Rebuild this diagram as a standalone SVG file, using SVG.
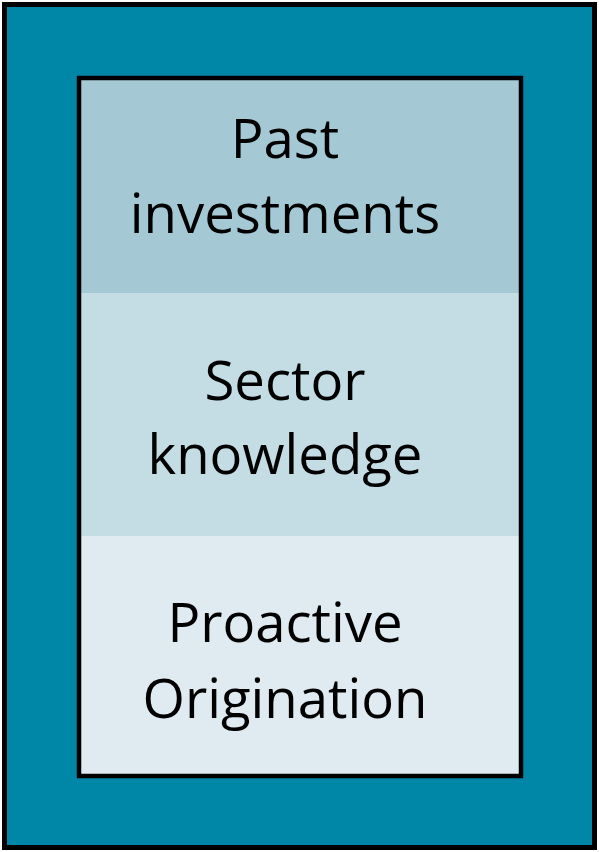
<svg xmlns="http://www.w3.org/2000/svg" width="599" height="852" viewBox="0 0 599 852">
<style>
.lbl{font-family:"Open Sans","Liberation Sans",sans-serif;font-size:54.5px;fill:#000;text-anchor:middle}
</style>
<g id="outer">
<rect x="4.5" y="4.5" width="590" height="843" fill="#0087A8" stroke="#000" stroke-width="5"/>
</g>
<g id="band-past">
<rect x="79" y="78" width="442" height="215" fill="#A4C9D5"/>
<text class="lbl" x="285" y="158">Past</text>
<text class="lbl" x="285" y="233">investments</text>
</g>
<g id="band-sector">
<rect x="79" y="293" width="442" height="243" fill="#C4DDE4"/>
<text class="lbl" x="285" y="400">Sector</text>
<text class="lbl" x="285" y="474">knowledge</text>
</g>
<g id="band-proactive">
<rect x="79" y="536" width="442" height="240" fill="#DFEBF0"/>
<text class="lbl" x="285" y="642">Proactive</text>
<text class="lbl" x="285" y="718">Origination</text>
</g>
<g id="inner-frame">
<rect x="79" y="78" width="442" height="698" fill="none" stroke="#000" stroke-width="4.5"/>
</g>
<g id="connectors"/>
</svg>
